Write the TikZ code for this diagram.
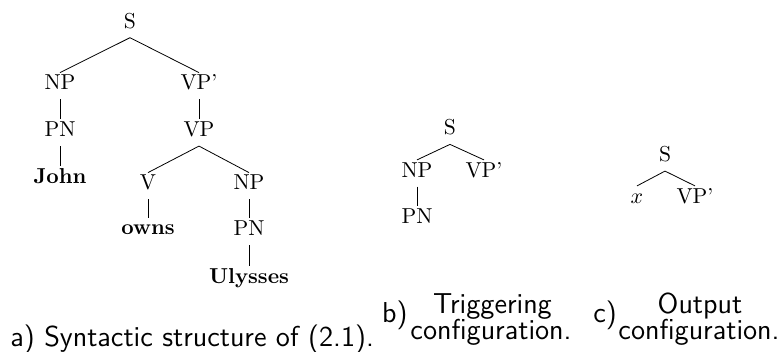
\documentclass[tikz,border=0pt]{standalone}
\usepackage{tikz}
\usetikzlibrary{positioning}
\tikzset{
 syn node/.style={anchor=base,inner xsep=1pt,inner ysep=1.5pt,
                  text height=7pt,text depth=3pt,
                  font=\fontsize{10.8}{13}\selectfont},
 syn leaf/.style={syn node,font=\fontsize{10.8}{13}\selectfont\bfseries},
 syn edge/.style={thin},
 syn caption/.style={inner sep=0pt,anchor=base,
                     font=\fontsize{14.4}{16}\sffamily\selectfont}
}

\begin{document}
\begin{tikzpicture}[x=.5pt,y=-.5pt]
 \useasboundingbox (0,0) rectangle (777,352);
 % (a) full tree
 \node[syn node] (aS)   at (130,28.3)  {S};
 \node[syn node] (aNP)  at (60,90)     {NP};
 \node[syn node] (aVPp) at (199,90)    {VP'};
 \node[syn node] (aPN)  at (60,136.7)  {PN};
 \node[syn leaf] (aJohn) at (60,183.3) {John};
 \node[syn node] (aVP)  at (199,136.7) {VP};
 \node[syn node] (aV)   at (148,190)   {V};
 \node[syn node] (aNPo) at (249,190)   {NP};
 \node[syn leaf] (aowns) at (148,235)  {owns};
 \node[syn node] (aPNo) at (249,235.7) {PN};
 \node[syn leaf] (aUly) at (249,283.3) {Ulysses};
 \foreach \p/\c in {aS/aNP,aS/aVPp,aNP/aPN,aPN/aJohn,aVPp/aVP,aVP/aV,
                    aVP/aNPo,aV/aowns,aNPo/aPNo,aPNo/aUly}{
   \draw[syn edge] (\p.south)--(\c.north);
 }
 \node[syn caption,anchor=base west] (acap) at (10,346.7)
   {a) Syntactic structure of (2.1).};

 % (b) triggering configuration
 \node[syn node] (bS)   at (450,135)   {S};
 \node[syn node] (bNP)  at (417,177.3) {NP};
 \node[syn node] (bVPp) at (484,177.3) {VP'};
 \node[syn node] (bPN)  at (417,223.3) {PN};
 \foreach \p/\c in {bS/bNP,bS/bVPp,bNP/bPN}{
   \draw[syn edge] (\p.south)--(\c.north);
 }
 \node[syn caption,anchor=base west] (blab) at (381.7,322.5) {b)};
 \node[syn caption] (bcap1) at (492.5,313.3) {Triggering};
 \node[syn caption] (bcap2) at (491,339.5) {configuration.};

 % (c) output configuration
 \node[syn node] (cS)   at (665,161.7) {S};
 \node[syn node] (cx)   at (637,203.3) {$x$};
 \node[syn node] (cVPp) at (695,203.3) {VP'};
 \foreach \c in {cx,cVPp}{\draw[syn edge] (cS.south)--(\c.north);}
 \node[syn caption,anchor=base west] (clab) at (593,322.5) {c)};
 \node[syn caption] (ccap1) at (700,313.3) {Output};
 \node[syn caption] (ccap2) at (699,339.5) {configuration.};
\end{tikzpicture}
\end{document}
